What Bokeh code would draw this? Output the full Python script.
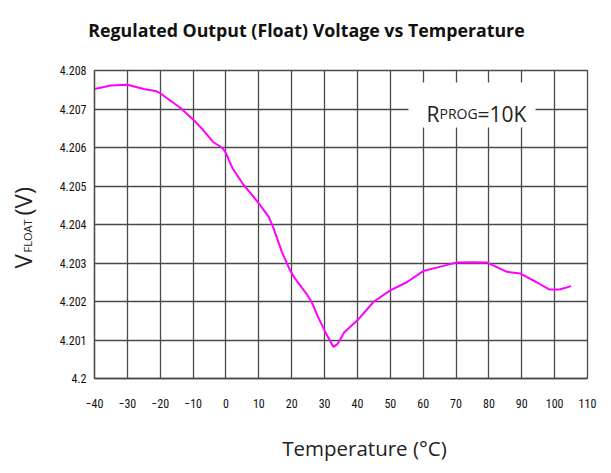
import math
from bokeh.plotting import figure
from bokeh.models import Range1d, FixedTicker, Label, BoxAnnotation
from bokeh.embed import file_html
from bokeh.resources import INLINE

# ---- data ----
temperature_c = [-40, -35, -30, -25, -21.5, -20, -17, -14, -10, -7, -4, -1, 0, 2, 5,
                 10, 13, 14.5, 17, 19.5, 21, 24.5, 26, 28, 30.5, 32.7, 34, 36, 40,
                 45, 50, 55, 60, 65, 70, 75, 79.5, 85.5, 89.5, 94.5, 98.5, 101.5, 105]
vfloat_v = [4.20752, 4.20761, 4.20763, 4.20752, 4.20747, 4.20741, 4.20722, 4.20704,
            4.20673, 4.20646, 4.20615, 4.20598, 4.20585, 4.20546, 4.20507, 4.20455,
            4.20420, 4.20390, 4.20329, 4.20281, 4.20260, 4.20220, 4.20200, 4.20160,
            4.20116, 4.20082, 4.20090, 4.20120, 4.20151, 4.20200, 4.20229, 4.20250,
            4.20279, 4.20290, 4.20301, 4.20302, 4.20301, 4.20277, 4.20273, 4.20250,
            4.20231, 4.20231, 4.20240]

x_ticks = [-40, -30, -20, -10, 0, 10, 20, 30, 40, 50, 60, 70, 80, 90, 100, 110]
y_ticks = [4.2, 4.201, 4.202, 4.203, 4.204, 4.205, 4.206, 4.207, 4.208]
y_tick_labels = ["4.2", "4.201", "4.202", "4.203", "4.204", "4.205", "4.206", "4.207", "4.208"]

title_text = "Regulated Output (Float) Voltage vs Temperature"
x_title = "Temperature (\u00b0C)"
legend_parts = ["R", "PROG", "=10K"]
y_title_parts = ["V", "FLOAT", "(V)"]

X0, X1 = -40, 110
Y0, Y1 = 4.2, 4.208
W, H = 603, 465
FL, FR, FT, FB = 94, 587, 70, 378   # frame edges in canvas pixels

p = figure(width=W, height=H, output_backend="svg", toolbar_location=None,
           x_range=Range1d(X0, X1), y_range=Range1d(Y0, Y1),
           min_border_left=FL, min_border_right=W - FR, min_border_top=FT,
           min_border_bottom=H - FB, background_fill_color="white")


def dx(px):
    return X0 + (px - FL) * (X1 - X0) / (FR - FL)


def dy(py):
    return Y1 - (py - FT) * (Y1 - Y0) / (FB - FT)


grid_col = "#4a4a4a"
tick_font = "Roboto Condensed, DejaVu Sans Condensed, Roboto"
txt_font = "Open Sans"
txt_col = "#222222"

for ax in (p.xaxis[0], p.yaxis[0]):
    ax.major_tick_line_color = None
    ax.minor_tick_line_color = None
    ax.major_tick_out = 0
    ax.major_tick_in = 0
    ax.axis_line_color = grid_col
    ax.axis_line_width = 1.3
    ax.major_label_text_font = tick_font
    ax.major_label_text_font_size = "12px"
    ax.major_label_text_color = "#111111"

p.xaxis.ticker = FixedTicker(ticks=x_ticks)
p.yaxis.ticker = FixedTicker(ticks=y_ticks)
p.yaxis.major_label_overrides = {t: s for t, s in zip(y_ticks, y_tick_labels)}
p.xaxis.major_label_standoff = 20
p.yaxis.major_label_standoff = 8

p.xgrid.ticker = FixedTicker(ticks=x_ticks)
p.ygrid.ticker = FixedTicker(ticks=y_ticks)
for g in (p.xgrid[0], p.ygrid[0]):
    g.grid_line_color = grid_col
    g.grid_line_width = 1.3
p.outline_line_color = grid_col
p.outline_line_width = 1.3

p.line(temperature_c, vfloat_v, line_color="#ff00ff", line_width=2)

# legend box (screen units relative to the frame)
p.add_layout(BoxAnnotation(left=408 - FL, right=535 - FL, top=FB - 82, bottom=FB - 127,
                           left_units="screen", right_units="screen",
                           top_units="screen", bottom_units="screen",
                           fill_color="white", fill_alpha=1.0, line_color=None,
                           level="annotation"))
for txt, fs, left in zip(legend_parts, [21, 14, 21], [426, 439, 477]):
    p.add_layout(Label(x=left - FL, y=FB - 113, x_units="screen", y_units="screen",
                       text=txt, text_font=txt_font, text_font_size=f"{fs}px",
                       text_baseline="alphabetic", text_color=txt_col))

# title (side panel, positioned in data units so it is independent of stacking)
p.add_layout(Label(x=dx(306), y=dy(29), text=title_text, text_font="Open Sans",
                   text_font_style="bold", text_font_size="17.8px", text_align="center",
                   text_baseline="alphabetic", text_color="#111111"), "above")

# x axis title
p.add_layout(Label(x=dx(364), y=dy(447), text=x_title, text_font=txt_font,
                   text_font_size="20.5px", text_align="center", text_baseline="middle",
                   text_color=txt_col), "below")

# y axis title, rotated, composed of V + subscript FLOAT + (V)
y_parts_pos = [(22, 268, 24), (26.5, 252, 11), (22, 215, 24)]
y_parts_side = ["left", "left", "above"]
for txt, (cx, start, fs), side in zip(y_title_parts, y_parts_pos, y_parts_side):
    p.add_layout(Label(x=dx(cx), y=dy(start), angle=math.pi / 2, text=txt,
                       text_font=txt_font, text_font_size=f"{fs}px",
                       text_align="left", text_baseline="middle",
                       text_color=txt_col), side)

open("out.html", "w").write(file_html(p, INLINE))
